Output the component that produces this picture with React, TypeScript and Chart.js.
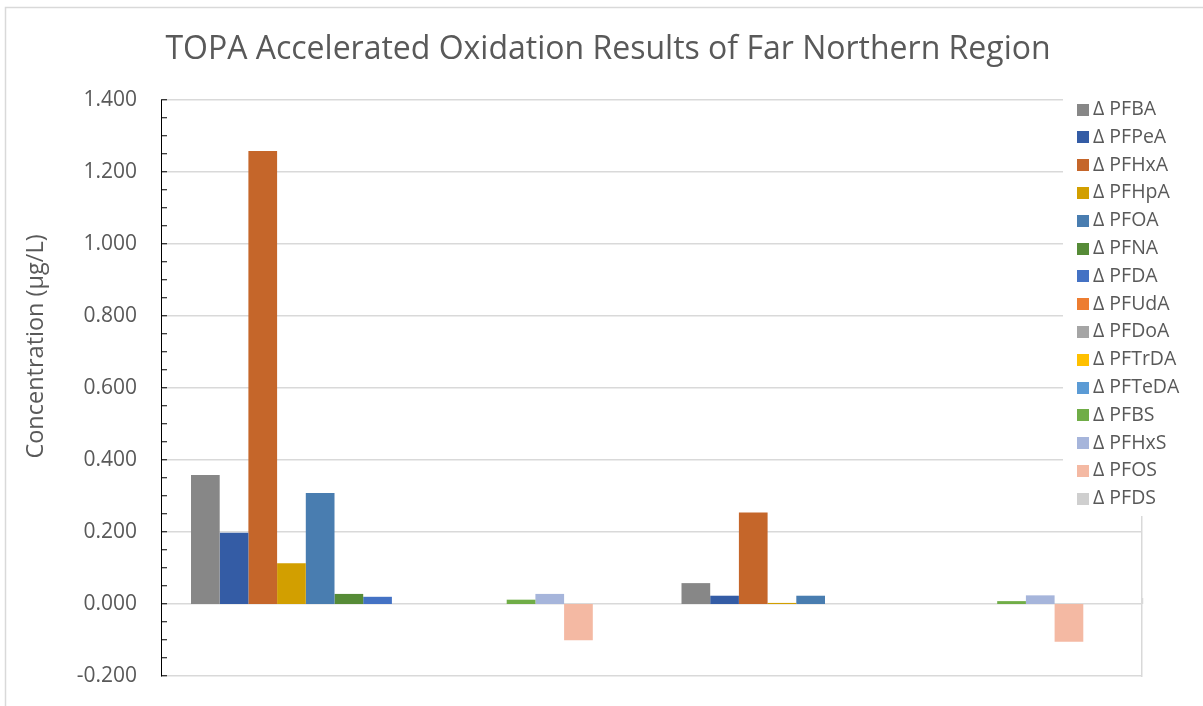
import { useEffect, useRef } from 'react';
import { Chart, registerables } from 'chart.js';

Chart.register(...registerables);

const FONT = '"Open Sans", "DejaVu Sans", sans-serif';
const TEXT = '#595959';
const GRID = '#d9d9d9';

const chartTitle = 'TOPA Accelerated Oxidation Results of Far Northern Region';
const yAxisTitle = 'Concentration (µg/L)';

// two sample groups (no category labels are shown on the axis)
const categories = ['', ''];

const seriesNames = [
  'Δ PFBA', 'Δ PFPeA', 'Δ PFHxA', 'Δ PFHpA', 'Δ PFOA', 'Δ PFNA', 'Δ PFDA', 'Δ PFUdA',
  'Δ PFDoA', 'Δ PFTrDA', 'Δ PFTeDA', 'Δ PFBS', 'Δ PFHxS', 'Δ PFOS', 'Δ PFDS',
];

const seriesColors = [
  '#878787', '#345ca5', '#c5662a', '#d29f00', '#497db0', '#568b37', '#4472c4', '#ed7d31',
  '#a5a5a5', '#ffc000', '#5b9bd5', '#70ad47', '#a6b5db', '#f4b9a3', '#cfcfcf',
];

const pfba = [0.358, 0.058];
const pfpea = [0.198, 0.023];
const pfhxa = [1.258, 0.254];
const pfhpa = [0.113, 0.003];
const pfoa = [0.308, 0.023];
const pfna = [0.028, 0];
const pfda = [0.02, 0];
const pfuda = [0, 0];
const pfdoa = [0, 0];
const pftrda = [0, 0];
const pfteda = [0, 0];
const pfbs = [0.012, 0.008];
const pfhxs = [0.028, 0.024];
const pfos = [-0.101, -0.105];
const pfds = [0, 0];

const seriesValues = [
  pfba, pfpea, pfhxa, pfhpa, pfoa, pfna, pfda, pfuda,
  pfdoa, pftrda, pfteda, pfbs, pfhxs, pfos, pfds,
];

const yMin = -0.2;
const yMax = 1.4;
const yMajorStep = 0.2;
const yMinorStep = 0.05;
const xDivisions = [0, 4];

const isMajor = (v: number) => Math.abs(v / yMajorStep - Math.round(v / yMajorStep)) < 1e-6;
const fmt = (v: number) => (Math.abs(v) < 1e-9 ? 0 : v).toFixed(3);

const framePlugin = {
  id: 'frame',
  beforeDraw(chart: any) {
    const { ctx } = chart;
    ctx.save();
    ctx.strokeStyle = GRID;
    ctx.lineWidth = 1.5;
    ctx.strokeRect(5.5, 7.5, 1400, 900);
    ctx.restore();
  },
  afterDraw(chart: any) {
    const { ctx } = chart;
    ctx.save();
    // y axis title
    ctx.translate(36.5, 346.5);
    ctx.rotate(-Math.PI / 2);
    ctx.fillStyle = TEXT;
    ctx.font = `23.5px ${FONT}`;
    ctx.textAlign = 'center';
    ctx.textBaseline = 'middle';
    ctx.fillText(yAxisTitle, 0, 0);
    ctx.restore();

    // legend
    ctx.save();
    ctx.fillStyle = '#ffffff';
    ctx.fillRect(1063, 92, 135, 424);
    ctx.font = `19.5px ${FONT}`;
    ctx.textAlign = 'left';
    ctx.textBaseline = 'middle';
    chart.data.datasets.forEach((ds: any, i: number) => {
      const cy = 109.5 + i * 27.8;
      ctx.fillStyle = ds.backgroundColor;
      ctx.fillRect(1077, Math.round(cy - 6), 12, 12);
      ctx.fillStyle = TEXT;
      ctx.fillText(ds.label, 1093, cy);
    });
    ctx.restore();
  },
};

export default function App() {
  const canvasRef = useRef<HTMLCanvasElement | null>(null);

  useEffect(() => {
    if (!canvasRef.current) return;
    const chart = new Chart(canvasRef.current, {
      type: 'bar',
      data: {
        labels: categories,
        datasets: seriesNames.map((name, i) => ({
          label: name,
          data: seriesValues[i],
          backgroundColor: seriesColors[i],
          borderWidth: 0,
          categoryPercentage: 430.5 / 490.5,
          barPercentage: 1,
        })),
      },
      options: {
        responsive: false,
        animation: false,
        devicePixelRatio: 1,
        layout: { padding: { left: 13, right: 0, top: 0, bottom: 30 } },
        plugins: {
          legend: { display: false },
          tooltip: { enabled: false },
          title: {
            display: true,
            text: chartTitle,
            color: TEXT,
            font: { family: FONT, size: 32, weight: 'normal', lineHeight: 1.2 },
            padding: { top: 31, bottom: 30.6 },
          },
        },
        scales: {
          x: {
            type: 'category',
            display: false,
          },
          x2: {
            type: 'linear',
            position: { y: 0 },
            min: xDivisions[0],
            max: xDivisions[1],
            afterFit: (s: any) => { s.height = 0; },
            ticks: { display: false, stepSize: 1 },
            grid: {
              drawOnChartArea: false,
              drawTicks: true,
              tickLength: -6,
              tickWidth: 1.5,
              tickColor: (c: any) =>
                c.tick && (c.tick.value === xDivisions[0] || c.tick.value === xDivisions[1])
                  ? 'rgba(0,0,0,0)'
                  : GRID,
            },
            border: { display: false },
          },
          y: {
            type: 'linear',
            position: 'left',
            min: yMin,
            max: yMax,
            afterFit: (s: any) => {
              s.width = 148;
              s.paddingTop = 0;
              s.paddingBottom = 0;
            },
            ticks: {
              stepSize: yMinorStep,
              autoSkip: false,
              padding: 30,
              color: TEXT,
              font: { family: FONT, size: 21 },
              callback: (v: any) => (isMajor(Number(v)) ? fmt(Number(v)) : ''),
            },
            grid: {
              color: (c: any) => (!c.tick || isMajor(c.tick.value) ? GRID : 'rgba(0,0,0,0)'),
              lineWidth: 1.5,
              drawTicks: true,
              tickLength: -6,
              tickColor: '#000000',
              tickWidth: 1,
            },
            border: { display: true, color: '#000000', width: 1 },
          },
          yR: {
            type: 'linear',
            position: 'right',
            min: yMin,
            max: yMax,
            afterFit: (s: any) => {
              s.width = 61;
              s.paddingTop = 0;
              s.paddingBottom = 0;
            },
            ticks: { display: false },
            grid: { display: false, drawTicks: false },
            border: { display: true, color: GRID, width: 1.5 },
          },
        },
      },
      plugins: [framePlugin],
    } as any);
    return () => chart.destroy();
  }, []);

  return (
    <div style={{ position: 'absolute', left: 0, top: 0, width: 1203, height: 706, background: '#fff' }}>
      <canvas ref={canvasRef} width={1203} height={706} style={{ display: 'block' }} />
    </div>
  );
}
